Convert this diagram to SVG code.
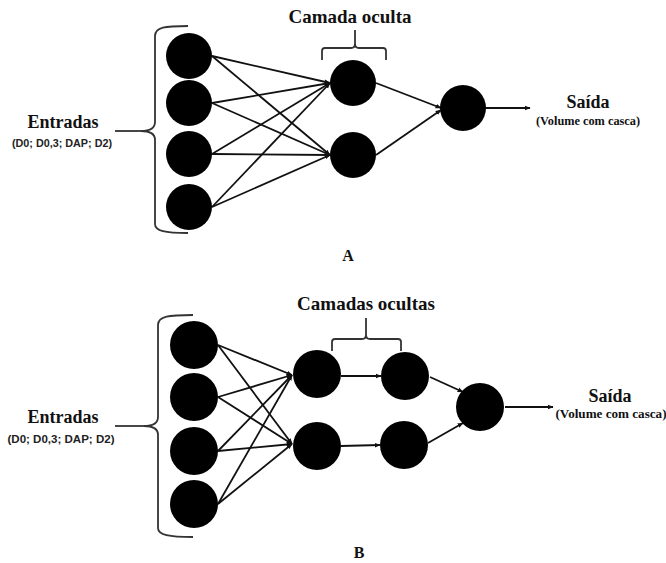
<svg xmlns="http://www.w3.org/2000/svg" width="666" height="563" viewBox="0 0 666 563">
<style>
.n{fill:#000}
.c{stroke:#111;stroke-width:1.8;fill:none}
.b{stroke:#333;stroke-width:1.8;fill:none}
.t{font-family:"Liberation Serif","Times New Roman",serif;font-weight:bold;fill:#111;text-anchor:middle}
.s{font-family:"Liberation Sans",Arial,sans-serif;font-weight:bold;fill:#222;text-anchor:middle}
</style>
<defs>
<marker id="ah" viewBox="0 0 10 10" refX="9" refY="5" markerWidth="6" markerHeight="6" orient="auto" markerUnits="userSpaceOnUse">
<path d="M0,1 L10,5 L0,9 Z" fill="#111"/>
</marker>
</defs>
<rect width="666" height="563" fill="#fff"/>

<!-- Diagram A -->
<g id="braces-A">
<path class="b" d="M188,26 C165,26 155,27 155,36 L155,122 C155,128 151,131 141,131 C151,131 155,134 155,140 L155,224 C155,231 165,233 188,233"/>
<path class="b" d="M115,131 L141,131"/>
<path class="b" d="M322,60 L322,51 Q322,48 325,48 L351,48 Q355,48 355,44 L355,30 M355,44 Q355,48 359,48 L383,48 Q386,48 386,51 L386,60"/>
</g>
<g id="connectors-A">
<line class="c" x1="212" y1="56" x2="330" y2="83" marker-end="url(#ah)"/>
<line class="c" x1="212" y1="56" x2="330" y2="155" marker-end="url(#ah)"/>
<line class="c" x1="212" y1="103" x2="330" y2="83" marker-end="url(#ah)"/>
<line class="c" x1="212" y1="103" x2="330" y2="155" marker-end="url(#ah)"/>
<line class="c" x1="212" y1="154" x2="330" y2="83" marker-end="url(#ah)"/>
<line class="c" x1="212" y1="154" x2="330" y2="155" marker-end="url(#ah)"/>
<line class="c" x1="212" y1="207" x2="330" y2="83" marker-end="url(#ah)"/>
<line class="c" x1="212" y1="207" x2="330" y2="155" marker-end="url(#ah)"/>
<line class="c" x1="376" y1="83" x2="441" y2="108" marker-end="url(#ah)"/>
<line class="c" x1="376" y1="155" x2="441" y2="110" marker-end="url(#ah)"/>
<line class="c" x1="486" y1="108" x2="530" y2="108" marker-end="url(#ah)"/>
</g>
<g id="A-in1"><circle class="n" cx="189" cy="56" r="23"/></g>
<g id="A-in2"><circle class="n" cx="189" cy="103" r="23"/></g>
<g id="A-in3"><circle class="n" cx="189" cy="154" r="23"/></g>
<g id="A-in4"><circle class="n" cx="189" cy="207" r="23"/></g>
<g id="A-h1"><circle class="n" cx="353" cy="83" r="23"/></g>
<g id="A-h2"><circle class="n" cx="353" cy="155" r="23"/></g>
<g id="A-out"><circle class="n" cx="463" cy="108" r="23"/></g>
<g id="A-labels">
<text class="t" x="350" y="23" font-size="19">Camada oculta</text>
<text class="t" x="63" y="128" font-size="18">Entradas</text>
<text class="s" x="62" y="147" font-size="10.5" textLength="100" lengthAdjust="spacingAndGlyphs">(D0; D0,3; DAP; D2)</text>
<text class="t" x="588" y="108" font-size="18">Saída</text>
<text class="t" x="588" y="125" font-size="12" textLength="104" lengthAdjust="spacingAndGlyphs">(Volume com casca)</text>
<text class="t" x="348" y="261" font-size="16">A</text>
</g>

<!-- Diagram B -->
<g id="braces-B">
<path class="b" d="M193,315 C169,315 158,316 158,325 L158,417 C158,423 154,426 144,426 C154,426 158,429 158,435 L158,528 C158,535 169,537 193,537"/>
<path class="b" d="M115,426 L144,426"/>
<path class="b" d="M332,351 L332,342 Q332,339 335,339 L362,339 Q366,339 366,335 L366,318 M366,335 Q366,339 370,339 L398,339 Q401,339 401,342 L401,351"/>
</g>
<g id="connectors-B">
<line class="c" x1="218" y1="345" x2="292" y2="375" marker-end="url(#ah)"/>
<line class="c" x1="218" y1="345" x2="292" y2="444" marker-end="url(#ah)"/>
<line class="c" x1="218" y1="397" x2="292" y2="375" marker-end="url(#ah)"/>
<line class="c" x1="218" y1="397" x2="292" y2="444" marker-end="url(#ah)"/>
<line class="c" x1="218" y1="451" x2="292" y2="375" marker-end="url(#ah)"/>
<line class="c" x1="218" y1="451" x2="292" y2="444" marker-end="url(#ah)"/>
<line class="c" x1="218" y1="504" x2="292" y2="375" marker-end="url(#ah)"/>
<line class="c" x1="218" y1="504" x2="292" y2="444" marker-end="url(#ah)"/>
<line class="c" x1="341" y1="376" x2="381" y2="376" marker-end="url(#ah)"/>
<line class="c" x1="341" y1="446" x2="380" y2="445" marker-end="url(#ah)"/>
<line class="c" x1="430" y1="377" x2="463" y2="392" marker-end="url(#ah)"/>
<line class="c" x1="428" y1="443" x2="463" y2="423" marker-end="url(#ah)"/>
<line class="c" x1="505" y1="407" x2="553" y2="407" marker-end="url(#ah)"/>
</g>
<g id="B-in1"><circle class="n" cx="194" cy="345" r="24"/></g>
<g id="B-in2"><circle class="n" cx="194" cy="397" r="24"/></g>
<g id="B-in3"><circle class="n" cx="194" cy="451" r="24"/></g>
<g id="B-in4"><circle class="n" cx="194" cy="504" r="24"/></g>
<g id="B-h1a"><circle class="n" cx="317" cy="374" r="24"/></g>
<g id="B-h1b"><circle class="n" cx="317" cy="446" r="24"/></g>
<g id="B-h2a"><circle class="n" cx="405" cy="376" r="24"/></g>
<g id="B-h2b"><circle class="n" cx="404" cy="445" r="24"/></g>
<g id="B-out"><circle class="n" cx="480" cy="407" r="24"/></g>
<g id="B-labels">
<text class="t" x="366" y="310" font-size="19">Camadas ocultas</text>
<text class="t" x="63" y="423" font-size="18">Entradas</text>
<text class="s" x="61" y="443" font-size="10.5" textLength="107" lengthAdjust="spacingAndGlyphs">(D0; D0,3; DAP; D2)</text>
<text class="t" x="610" y="402" font-size="18">Saída</text>
<text class="t" x="611" y="418" font-size="12" textLength="111" lengthAdjust="spacingAndGlyphs">(Volume com casca)</text>
<text class="t" x="359" y="558" font-size="16">B</text>
</g>
</svg>
